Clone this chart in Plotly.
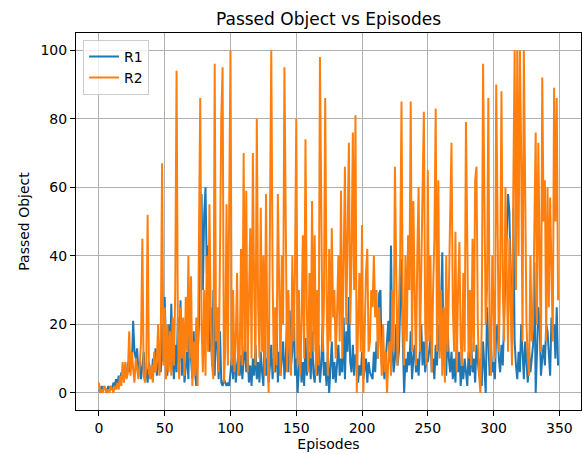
import plotly.graph_objects as go

episodes = list(range(350))

r1 = [
    1, 0, 2, 1, 2, 1, 0, 2, 1, 2,
    1, 3, 2, 4, 2, 5, 3, 6, 4, 5,
    7, 5, 9, 6, 12, 8, 21, 12, 10, 13,
    6, 9, 4, 8, 12, 5, 7, 3, 9, 6,
    4, 10, 6, 13, 5, 8, 12, 6, 20, 9,
    28, 12, 5, 20, 8, 26, 10, 4, 14, 6,
    22, 9, 27, 5, 15, 3, 8, 12, 4, 25,
    10, 4, 18, 6, 2, 14, 20, 48, 58, 30,
    52, 60, 35, 43, 12, 25, 8, 30, 5, 22,
    10, 4, 18, 3, 2, 4, 3, 2, 3, 2,
    6, 10, 4, 15, 3, 8, 12, 5, 11, 4,
    9, 15, 6, 12, 3, 8, 2, 10, 5, 14,
    4, 9, 3, 12, 6, 2, 18, 5, 10, 3,
    8, 14, 4, 10, 6, 20, 3, 12, 5, 9,
    15, 4, 10, 22, 6, 24, 8, 12, 31, 5,
    10, 0, 6, 14, 3, 9, 2, 16, 5, 8,
    12, 4, 18, 6, 3, 10, 5, 14, 3, 8,
    20, 5, 9, 2, 12, 0, 6, 15, 4, 9,
    3, 8, 14, 5, 10, 6, 22, 4, 18, 12,
    28, 9, 6, 14, 5, 11, 11, 3, 8, 5,
    12, 4, 7, 10, 3, 9, 6, 5, 4, 12,
    6, 15, 10, 29, 30, 8, 12, 4, 10, 15,
    21, 9, 43, 14, 6, 10, 20, 8, 12, 25,
    39, 15, 0, 10, 6, 12, 8, 18, 4, 10,
    14, 6, 10, 5, 12, 20, 8, 15, 6, 10,
    9, 12, 17, 6, 10, 4, 14, 8, 20, 12,
    25, 41, 8, 15, 5, 20, 10, 6, 12, 4,
    10, 3, 15, 6, 12, 2, 8, 4, 10, 6,
    2, 12, 5, 15, 6, 10, 3, 14, 8, 5,
    10, 2, 15, 8, 0, 25, 12, 5, 14, 6,
    9, 4, 18, 20, 10, 6, 14, 8, 22, 34,
    45, 58, 53, 30, 12, 54, 15, 8, 4, 12,
    6, 20, 10, 4, 15, 8, 3, 12, 6, 10,
    14, 38, 0, 12, 25, 20, 5, 10, 14, 8,
    20, 18, 12, 5, 22, 18, 20, 10, 25, 8,
]

r2 = [
    3, 0, 1, 0, 2, 1, 0, 1, 0, 2,
    1, 0, 2, 1, 3, 1, 5, 2, 9, 3,
    9, 4, 6, 18, 5, 12, 7, 3, 10, 6,
    4, 8, 15, 45, 5, 3, 8, 52, 6, 4,
    8, 3, 12, 6, 9, 20, 5, 15, 67, 8,
    25, 4, 20, 6, 18, 5, 22, 8, 30, 94,
    18, 4, 25, 10, 22, 5, 28, 12, 40, 10,
    34, 2, 15, 5, 22, 2, 59, 86, 20, 6,
    30, 5, 40, 12, 55, 20, 8, 4, 96, 15,
    25, 6, 40, 80, 95, 3, 12, 55, 8, 45,
    100, 8, 30, 6, 15, 35, 5, 10, 42, 8,
    70, 12, 59, 6, 35, 48, 10, 70, 30, 8,
    80, 25, 10, 54, 12, 40, 5, 58, 15, 0,
    50, 100, 35, 6, 25, 8, 58, 30, 5, 40,
    20, 95, 45, 6, 30, 12, 5, 40, 15, 35,
    80, 8, 30, 5, 20, 46, 10, 74, 25, 6,
    35, 10, 56, 12, 46, 5, 30, 8, 98, 40,
    12, 25, 86, 30, 5, 42, 15, 48, 22, 30,
    10, 23, 40, 15, 59, 10, 35, 66, 20, 45,
    73, 20, 39, 76, 30, 81, 0, 20, 35, 12,
    49, 0, 22, 35, 42, 12, 15, 30, 25, 40,
    22, 30, 10, 25, 15, 5, 20, 6, 12, 0,
    10, 15, 5, 30, 12, 66, 35, 8, 25, 40,
    85, 20, 8, 40, 15, 46, 30, 85, 12, 56,
    30, 8, 40, 60, 12, 35, 50, 82, 20, 8,
    65, 15, 40, 6, 30, 45, 83, 12, 62, 10,
    30, 5, 25, 3, 40, 12, 30, 50, 73, 25,
    12, 47, 6, 30, 44, 15, 8, 35, 12, 79,
    40, 10, 30, 8, 45, 12, 62, 66, 20, 5,
    0, 20, 96, 60, 20, 30, 86, 15, 5, 40,
    25, 10, 90, 45, 12, 35, 88, 30, 15, 60,
    30, 12, 45, 20, 8, 60, 100, 30, 100, 40,
    100, 69, 15, 100, 50, 20, 10, 5, 40, 15,
    20, 45, 76, 20, 73, 40, 12, 92, 50, 62,
    15, 60, 25, 57, 30, 15, 89, 50, 86, 27,
]

x_ticks = [0, 50, 100, 150, 200, 250, 300, 350]
y_ticks = [0, 20, 40, 60, 80, 100]

font = "DejaVu Sans, Arial, sans-serif"
tick_px = 14
title_px = 17

fig = go.Figure()
fig.add_trace(go.Scatter(x=episodes, y=r1, mode="lines", name="R1",
                         line=dict(color="#1f77b4", width=2)))
fig.add_trace(go.Scatter(x=episodes, y=r2, mode="lines", name="R2",
                         line=dict(color="#ff7f0e", width=2)))

axis_common = dict(
    showline=True, linecolor="black", linewidth=1.1, mirror=True,
    showgrid=True, gridcolor="#b0b0b0", gridwidth=1.1,
    ticks="outside", ticklen=5, tickwidth=1.1, tickcolor="black",
    zeroline=False, tickfont=dict(size=tick_px, color="black", family=font),
)

fig.update_layout(
    width=583, height=454,
    margin=dict(l=76, r=2, t=33, b=44),
    paper_bgcolor="white", plot_bgcolor="white",
    font=dict(family=font, color="black"),
    title=dict(text="Passed Object vs Episodes", x=0.5, xanchor="center",
               xref="paper",
               y=1 - 19 / 454, yanchor="middle",
               font=dict(size=title_px, family=font, color="black")),
    xaxis=dict(range=[-17.45, 366.45], tickvals=x_ticks,
               title=dict(text="Episodes", font=dict(size=tick_px, family=font), standoff=3),
               **axis_common),
    yaxis=dict(range=[-5, 105], tickvals=y_ticks,
               title=dict(text="Passed Object", font=dict(size=tick_px, family=font), standoff=7),
               **axis_common),
    legend=dict(x=0.014, y=0.982, xanchor="left", yanchor="top",
                bgcolor="rgba(255,255,255,0.8)", bordercolor="#cccccc", borderwidth=1,
                font=dict(size=tick_px, family=font), tracegroupgap=0),
    showlegend=True,
)

fig.write_html("out.html", config={"displayModeBar": False},
               post_script="document.body.style.margin='0';")
